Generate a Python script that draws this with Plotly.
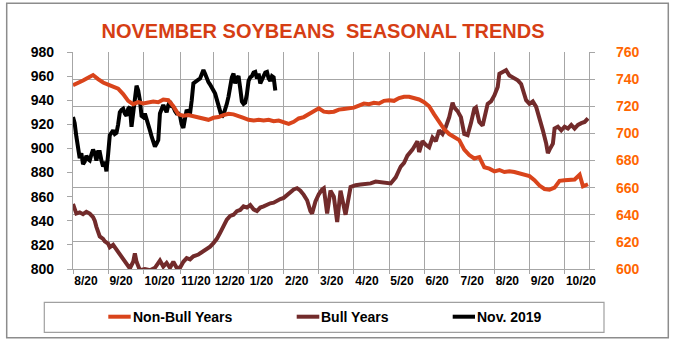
import plotly.graph_objects as go

# ---- axis labels -------------------------------------------------------
x_tick_days = [0, 21, 42, 64, 84, 105, 126, 147, 168, 189, 210, 231, 252, 273, 294]
x_tick_text = ["8/20", "9/20", "10/20", "11/20", "12/20", "1/20", "2/20", "3/20",
               "4/20", "5/20", "6/20", "7/20", "8/20", "9/20", "10/20"]

# ---- Non-Bull Years (right axis) ----------------------------------------
nonbull_day = [0, 3, 6, 9, 12, 15, 18, 21, 24, 27, 30, 33, 36, 39, 42, 45, 48, 51, 54, 57,
               60, 63, 66, 69, 72, 75, 78, 81, 84, 87, 90, 93, 96, 99, 102, 105, 108, 111,
               114, 117, 120, 123, 126, 129, 132, 135, 138, 141, 144, 147, 150, 153, 156,
               159, 162, 165, 168, 171, 174, 177, 180, 183, 186, 189, 192, 195, 198, 201,
               204, 207, 210, 213, 216, 219, 222, 225, 228, 231, 234, 237, 240, 243, 246,
               249, 252, 255, 258, 261, 264, 267, 270, 273, 276, 279, 282, 285, 288, 291,
               294, 297, 300, 303, 305, 308]
nonbull_val = [735.5, 737, 739, 741, 743, 740, 737.5, 736, 734.5, 733, 729, 724, 721.5, 723,
               722, 722.5, 723.5, 723, 725, 724.5, 720, 714, 713, 713.5, 712.5, 711.5, 711,
               710, 711.5, 712, 713.5, 714.5, 714, 713, 711.5, 710, 709.5, 710, 709.5, 710,
               709, 709.5, 708, 707, 708.5, 711, 712, 714, 716, 718.5, 716, 715.5, 716,
               717.5, 718, 718.5, 719, 720.5, 722, 721.5, 722.5, 722, 724, 724.5, 724, 726,
               727, 727, 726, 725, 723, 720, 714, 708, 703, 699.5, 697, 695, 688, 684,
               681.5, 682.5, 675, 674, 672, 673, 671.5, 672, 671.5, 670.5, 670, 668.5,
               665.5, 661.5, 659, 658.5, 660, 665, 665.5, 666, 666, 669.5, 661, 662.5]

# ---- Bull Years (left axis) ---------------------------------------------
bull_day = [0, 1, 2, 4, 6, 8, 10, 12, 13, 14, 15, 16, 18, 19, 21, 22, 24, 26, 28, 30, 32,
            34, 36, 37, 38, 40, 43, 46, 49, 52, 54, 56, 58, 60, 62, 64, 66, 68, 70, 72, 75,
            78, 80, 82, 84, 86, 88, 90, 92, 94, 96, 98, 100, 102, 104, 106, 108, 110, 112,
            114, 116, 118, 120, 122, 124, 126, 128, 130, 132, 134, 136, 138, 140, 142, 143,
            145, 147, 149, 150, 152, 154, 156, 158, 160, 163, 166, 169, 172, 175, 178, 181,
            184, 187, 190, 193, 196, 198, 200, 203, 206, 207, 209, 211, 213, 215, 217, 219,
            221, 223, 225, 227, 228, 230, 232, 234, 236, 238, 240, 241, 243, 245, 247, 248,
            250, 252, 254, 255, 257, 259, 261, 264, 266, 268, 269, 271, 273, 275, 277, 279,
            281, 283, 284, 285, 287, 288, 290, 292, 294, 296, 298, 300, 302, 304, 306, 308]
bull_val = [854, 849, 846, 847, 845.5, 847.5, 846, 843, 840, 835, 830, 827, 825, 823, 821,
            818, 820, 816, 813, 808, 804, 800.5, 806, 813, 806, 799, 800, 799, 801, 807, 802,
            805, 801, 806, 801, 801, 806, 809, 808, 810.5, 812, 815, 816, 818.5, 821.5, 825,
            830, 836, 841, 844, 845, 848, 849, 852, 851, 853, 849.5, 848, 851, 852, 853.5,
            854.5, 855, 857, 858, 859, 861.5, 864, 866, 867, 865, 861.5, 857, 848, 846, 856,
            862, 866, 867, 846, 865, 860, 839, 865, 845, 868, 869.5, 870, 870.5, 871, 872.5,
            872, 871.5, 871, 876, 885, 888, 894, 899, 906, 897, 906, 903, 901, 909, 906, 915,
            912, 918, 926, 938, 934, 931, 926, 912, 911, 921, 933, 934, 922, 919, 929, 937,
            939, 944, 951, 962, 963.5, 965, 960.5, 958, 956.5, 953.5, 948, 940, 937, 939,
            934.5, 926, 915, 904, 896, 899, 904, 916.5, 918, 915, 918, 916.5, 919.5, 916.5,
            919.5, 921, 922, 925]

# ---- Nov. 2019 contract, daily (left axis) -------------------------------
nov2019_val = [926, 921, 910, 899, 892, 896, 887, 889, 894, 891, 890, 895, 899, 896, 890,
               897, 897, 890, 885, 889, 881, 895, 911, 913, 915, 912, 913, 920, 930, 932,
               933, 929, 927, 933, 934.5, 918, 928, 940, 952, 948, 940, 927, 926, 929, 925,
               921, 915, 910, 905, 901.5, 904, 907, 929, 933, 936, 933, 930, 936, 939, 935,
               934.5, 931, 929, 929, 927, 920, 917, 925, 932, 930, 929, 940, 954, 955,
               956.5, 957, 958, 962, 965, 962, 958, 955, 953, 951, 948, 945.5, 940, 934.5,
               930, 926, 928, 932, 937, 943, 952, 959, 962, 954, 958, 960, 950, 939, 937,
               938, 945, 956, 959, 960, 963, 963.5, 958, 962, 954, 958, 960, 963, 963.5, 958,
               956, 960, 959, 948]
nov2019_day = list(range(len(nov2019_val)))

# ---- style --------------------------------------------------------------
C_NONBULL = "#D9441B"
C_BULL = "#722B2B"
C_NOV = "#000000"
C_GRID = "#A6A6A6"
C_RIGHT = "#FF6600"
FONT = "Liberation Sans, Arial, sans-serif"
LINE_W = 4

W, H = 675, 341
L, R, T, B = 73, 86, 52, 72
PW, PH = W - L - R, H - T - B


def px(x):
    return (x - L) / PW


def py(y):
    return (H - B - y) / PH


fig = go.Figure()
fig.add_trace(go.Scatter(x=nonbull_day, y=nonbull_val, yaxis="y2", mode="lines",
                         name="Non-Bull Years", line=dict(color=C_NONBULL, width=LINE_W)))
fig.add_trace(go.Scatter(x=bull_day, y=bull_val, yaxis="y", mode="lines",
                         name="Bull Years", line=dict(color=C_BULL, width=LINE_W)))
fig.add_trace(go.Scatter(x=nov2019_day, y=nov2019_val, yaxis="y", mode="lines",
                         name="Nov. 2019", line=dict(color=C_NOV, width=LINE_W)))

shapes = [
    # outer frame
    dict(type="rect", xref="paper", yref="paper", x0=px(6.7), x1=px(668.3),
         y0=py(337.7), y1=py(3.3), line=dict(color="#8C8C8C", width=1.5), layer="below"),
    # legend box
    dict(type="rect", xref="paper", yref="paper", x0=px(44.3), x1=px(604),
         y0=py(332.3), y1=py(302.3), line=dict(color="#A0A0A0", width=1.2)),
]
annotations = []
legend_items = [("Non-Bull Years", C_NONBULL, 108.3, 130.7),
                ("Bull Years", C_BULL, 296.7, 319.3),
                ("Nov. 2019", C_NOV, 452.7, 475.0)]
for name, col, x0, x1 in legend_items:
    shapes.append(dict(type="line", xref="paper", yref="paper", x0=px(x0), x1=px(x1),
                       y0=py(316.7), y1=py(316.7), line=dict(color=col, width=4)))
    annotations.append(dict(text=name, xref="paper", yref="paper", x=px(x1), y=py(316.7),
                            xanchor="left", yanchor="middle", showarrow=False,
                            font=dict(family=FONT, size=14, color="#000", weight="bold")))

fig.update_layout(
    width=W, height=H,
    margin=dict(l=L, r=R, t=T, b=B),
    paper_bgcolor="white", plot_bgcolor="white",
    showlegend=False,
    title=dict(text="NOVEMBER SOYBEANS\u00a0 SEASONAL TRENDS", xref="container", yref="container",
               x=323 / W, y=1 - 31 / H, xanchor="center", yanchor="middle",
               font=dict(family=FONT, size=20, color="#D63E14", weight="bold")),
    xaxis=dict(range=[0, 308.6], tickmode="array", tickvals=x_tick_days, ticktext=x_tick_text,
               ticklabelposition="outside right", tickangle=0, showgrid=True, gridcolor=C_GRID,
               gridwidth=1.3, showline=True, linecolor=C_GRID, linewidth=1.3, ticks="outside",
               ticklen=4, tickcolor=C_GRID, tickwidth=1.3, zeroline=False,
               tickfont=dict(family=FONT, size=12, color="#000", weight="bold")),
    yaxis=dict(range=[800, 980], tickmode="linear", tick0=800, dtick=20, showgrid=False,
               showline=True, linecolor=C_GRID, linewidth=1.3, ticks="outside", ticklen=5,
               tickcolor=C_GRID, tickwidth=1.3, zeroline=False, ticklabelstandoff=10,
               tickfont=dict(family=FONT, size=14, color="#000", weight="bold")),
    yaxis2=dict(range=[600, 760], tickmode="linear", tick0=600, dtick=20, overlaying="y",
                side="right", showgrid=True, gridcolor=C_GRID, gridwidth=1.3,
                showline=True, linecolor=C_GRID, linewidth=1.3, ticks="outside", ticklen=5,
                tickcolor=C_GRID, tickwidth=1.3, zeroline=False, ticklabelstandoff=18,
                tickfont=dict(family=FONT, size=14, color=C_RIGHT, weight="bold")),
    shapes=shapes,
    annotations=annotations,
)

fig.write_html("out.html")
